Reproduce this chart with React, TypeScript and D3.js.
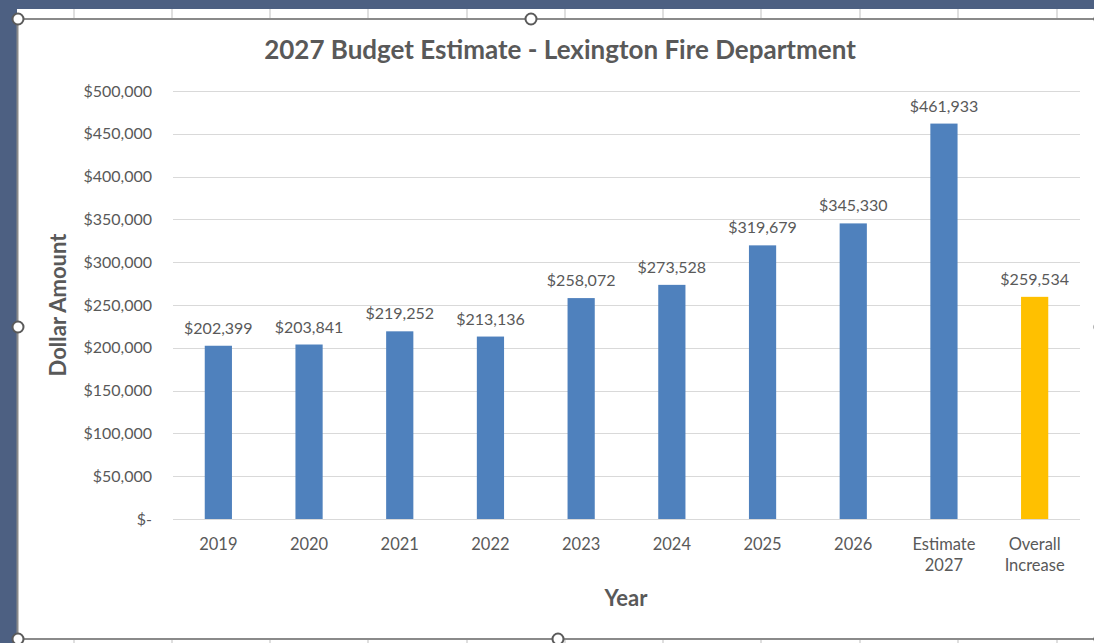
import React from "react";
import * as d3 from "d3";

const categories: string[][] = [
  ["2019"], ["2020"], ["2021"], ["2022"], ["2023"], ["2024"], ["2025"], ["2026"],
  ["Estimate", "2027"], ["Overall", "Increase"],
];
const values: number[] = [202399, 203841, 219252, 213136, 258072, 273528, 319679, 345330, 461933, 259534];
const barColors: string[] = ["#4F81BD", "#4F81BD", "#4F81BD", "#4F81BD", "#4F81BD", "#4F81BD", "#4F81BD", "#4F81BD", "#4F81BD", "#FFC000"];
const yTicks: number[] = [0, 50000, 100000, 150000, 200000, 250000, 300000, 350000, 400000, 450000, 500000];
const title = "2027 Budget Estimate - Lexington Fire Department";
const yTitle = "Dollar Amount";
const xTitle = "Year";
const sheetCols: number[] = [74, 172, 270, 368, 467, 565, 663, 761, 860, 958, 1057];

const W = 1094, H = 643;
const FONT = "Lato, 'Open Sans', sans-serif";
const TXT = "#595959";

export default function App() {
  const x = d3.scaleBand<number>().domain(d3.range(categories.length)).range([173, 1080]).paddingInner(0.7).paddingOuter(0.35);
  const y = d3.scaleLinear().domain([0, 500000]).range([519, 91]);
  const fmt = d3.format("$,");
  const tickFmt = (v: number) => (v === 0 ? "$-" : fmt(v));
  const handles: [number, number][] = [[18, 19], [531, 19], [18, 327], [18, 639], [558, 639], [1100, 327], [1100, 19], [1100, 639]];
  return (
    <div style={{ position: "fixed", left: 0, top: 0, width: W, height: H }}>
      <svg width={W} height={H} style={{ display: "block" }}>
        <rect x={0} y={0} width={W} height={H} fill="#4D6082" />
        <rect x={17} y={9} width={W - 17} height={H - 9} fill="#ffffff" />
        {sheetCols.map((c) => (
          <line key={c} x1={c} x2={c} y1={9} y2={19} stroke="#d4d4d4" strokeWidth={1.5} />
        ))}
        {sheetCols.map((c) => (
          <line key={"b" + c} x1={c} x2={c} y1={639} y2={H} stroke="#d4d4d4" strokeWidth={1.5} />
        ))}
        <rect x={17.5} y={19} width={1100 - 17.5} height={620} fill="#ffffff" stroke="#8a8a8a" strokeWidth={2} />
        {handles.map(([hx, hy], i) => (
          <circle key={i} cx={hx} cy={hy} r={5.5} fill="#ffffff" stroke="#5a5a5a" strokeWidth={2} />
        ))}
        <text x={560} y={59} textAnchor="middle" fontFamily={FONT} fontWeight={700} fontSize={26} fill={TXT}>{title}</text>
        {yTicks.map((t) => (
          <g key={t}>
            <line x1={173} x2={1080} y1={Math.round(y(t)) + 0.5} y2={Math.round(y(t)) + 0.5} stroke="#d9d9d9" strokeWidth={1} />
            <text x={152} y={y(t) + 5.5} textAnchor="end" fontFamily={FONT} fontSize={16} fill={TXT}>{tickFmt(t)}</text>
          </g>
        ))}
        {values.map((v, i) => (
          <g key={i}>
            <rect x={x(i)} y={y(v)} width={x.bandwidth()} height={y(0) - y(v)} fill={barColors[i]} />
            <text x={(x(i) as number) + x.bandwidth() / 2} y={y(v) - 12} textAnchor="middle" fontFamily={FONT} fontSize={16} fill={TXT}>{fmt(v)}</text>
          </g>
        ))}
        {categories.map((lines, i) => (
          <text key={i} x={(x(i) as number) + x.bandwidth() / 2} y={550} textAnchor="middle" fontFamily={FONT} fontSize={16.5} fill={TXT}>
            {lines.map((l, j) => (
              <tspan key={j} x={(x(i) as number) + x.bandwidth() / 2} dy={j === 0 ? 0 : 21}>{l}</tspan>
            ))}
          </text>
        ))}
        <text x={626} y={606} textAnchor="middle" fontFamily={FONT} fontWeight={700} fontSize={22} fill={TXT}>{xTitle}</text>
        <text transform="translate(66,305) rotate(-90)" textAnchor="middle" fontFamily={FONT} fontWeight={700} fontSize={22} fill={TXT}>{yTitle}</text>
      </svg>
    </div>
  );
}
